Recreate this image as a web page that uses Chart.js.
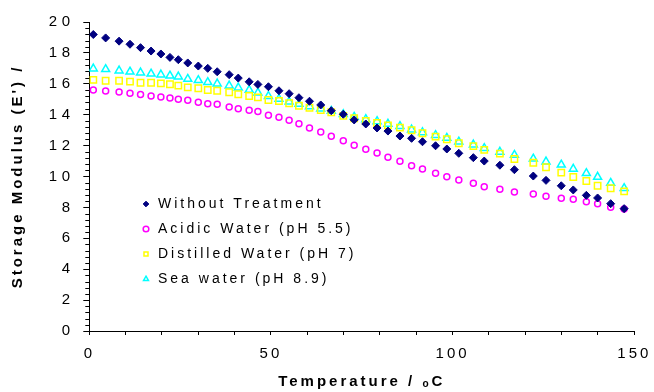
<!DOCTYPE html>
<html>
<head>
<meta charset="utf-8">
<script src="https://cdn.jsdelivr.net/npm/chart.js@4.4.0/dist/chart.umd.min.js"></script>
<style>
  html, body { margin: 0; padding: 0; background: #fff; }
  #wrap { width: 654px; height: 392px; }
</style>
</head>
<body>
<div id="wrap"><canvas id="modulusChart" width="654" height="392"></canvas></div>
<script>
// temperatures (oC) shared by all four series
const temperatures = [
  1.1, 4.5, 8.2, 11.2, 14.1, 17.0, 19.7, 22.2, 24.5, 27.1, 30.0, 32.6, 35.2, 38.5, 41.0, 44.0, 46.4,
  49.3, 52.2, 55.0, 57.7, 60.6, 63.7, 66.6, 69.9, 72.9, 76.1, 79.2, 82.2, 85.5, 88.7, 91.7,
  95.3, 98.4, 101.7, 105.7, 108.7, 113.0, 117.0, 122.2, 125.7, 129.9, 133.2, 136.8, 139.9, 143.5, 147.2
];

const withoutTreatment = [
  19.19, 18.97, 18.76, 18.56, 18.34, 18.12, 17.93, 17.71, 17.56, 17.35, 17.15, 17.00, 16.78, 16.59, 16.37, 16.13, 15.96,
  15.81, 15.55, 15.36, 15.10, 14.87, 14.63, 14.26, 14.03, 13.66, 13.40, 13.14, 12.94, 12.62, 12.47, 12.25,
  11.99, 11.78, 11.50, 11.22, 11.00, 10.73, 10.44, 10.03, 9.75, 9.40, 9.13, 8.78, 8.61, 8.24, 7.92
];

const acidicWater = [
  15.60, 15.53, 15.47, 15.39, 15.30, 15.21, 15.15, 15.08, 15.00, 14.93, 14.80, 14.71, 14.67, 14.50, 14.39, 14.28, 14.20,
  13.96, 13.83, 13.64, 13.42, 13.14, 12.88, 12.60, 12.32, 12.02, 11.76, 11.52, 11.24, 10.98, 10.70, 10.48,
  10.21, 9.99, 9.77, 9.56, 9.34, 9.17, 9.00, 8.87, 8.72, 8.59, 8.52, 8.37, 8.24, 8.01, 7.90
];

const distilledWater = [
  16.25, 16.20, 16.20, 16.14, 16.07, 16.07, 16.03, 15.97, 15.88, 15.77, 15.71, 15.60, 15.55, 15.45, 15.32, 15.21, 15.12,
  14.95, 14.89, 14.74, 14.58, 14.45, 14.30, 14.16, 13.92, 13.77, 13.59, 13.46, 13.31, 13.16, 12.99, 12.80,
  12.58, 12.41, 12.15, 11.97, 11.72, 11.48, 11.13, 10.89, 10.60, 10.25, 9.97, 9.71, 9.40, 9.24, 9.04
];

const seaWater = [
  16.98, 16.94, 16.85, 16.78, 16.72, 16.65, 16.59, 16.52, 16.46, 16.31, 16.23, 16.10, 16.01, 15.88, 15.75, 15.60, 15.42,
  15.20, 15.02, 14.84, 14.69, 14.54, 14.39, 14.24, 14.03, 13.85, 13.70, 13.57, 13.40, 13.25, 13.03, 12.85,
  12.67, 12.49, 12.25, 12.06, 11.83, 11.59, 11.39, 11.15, 10.96, 10.76, 10.49, 10.21, 9.97, 9.58, 9.24
];

const seriesNames = ['Without Treatment', 'Acidic Water (pH 5.5)', 'Distilled Water (pH 7)', 'Sea water (pH 8.9)'];
const xTickLabels = [0, 50, 100, 150];
const yTickLabels = [0, 2, 4, 6, 8, 10, 12, 14, 16, 18, 20];

const FONT = "'Liberation Sans', Arial, sans-serif";

function toPoints(values) {
  return temperatures.map((t, i) => ({ x: t, y: values[i] }));
}

// excel-ish spaced out text
const textSpacing = {
  id: 'textSpacing',
  beforeUpdate(chart) { chart.ctx.letterSpacing = '3px'; },
  beforeDraw(chart) { chart.ctx.letterSpacing = '3px'; },
  afterLayout(chart) {
    // value axis numbers are spread a bit wider
    const y = chart.scales.y;
    if (y._wide) return;
    const base = y.drawLabels;
    y.drawLabels = function (area) {
      this.ctx.letterSpacing = '4.5px';
      base.call(this, area);
      this.ctx.letterSpacing = '3px';
    };
    y._wide = true;
  }
};

// short minor ticks on the value axis
const minorTicks = {
  id: 'minorTicks',
  afterDraw(chart) {
    const y = chart.scales.y;
    const ctx = chart.ctx;
    const left = chart.chartArea.left;
    ctx.save();
    ctx.strokeStyle = '#000';
    ctx.lineWidth = 1;
    ctx.beginPath();
    for (let k = 1; k < 50; k++) {
      if (k % 5 === 0) continue;
      const py = Math.round(y.getPixelForValue(k * 0.4)) + 0.5;
      ctx.moveTo(left - 4, py);
      ctx.lineTo(left, py);
    }
    ctx.stroke();
    ctx.restore();
  }
};

// put the legend inside the plot, lower left
const legendPlace = {
  id: 'legendPlace',
  afterLayout(chart) {
    chart.legend.left = 130;
    chart.legend.top = 186;
  }
};

const ctx = document.getElementById('modulusChart').getContext('2d');
new Chart(ctx, {
  type: 'scatter',
  data: {
    datasets: [
      {
        label: seriesNames[0],
        data: toPoints(withoutTreatment),
        pointStyle: 'rectRot',
        pointRadius: 4,
        borderWidth: 1,
        borderColor: '#000080',
        backgroundColor: '#000080'
      },
      {
        label: seriesNames[1],
        data: toPoints(acidicWater),
        pointStyle: 'circle',
        pointRadius: 3,
        borderWidth: 1.5,
        borderColor: '#FF00FF',
        backgroundColor: 'rgba(0,0,0,0)'
      },
      {
        label: seriesNames[2],
        data: toPoints(distilledWater),
        pointStyle: 'rect',
        pointRadius: 4.5,
        borderWidth: 1.5,
        borderColor: '#FFFF00',
        backgroundColor: 'rgba(0,0,0,0)'
      },
      {
        label: seriesNames[3],
        data: toPoints(seaWater),
        pointStyle: 'triangle',
        pointRadius: 4.6,
        borderWidth: 1.5,
        borderColor: '#00FFFF',
        backgroundColor: 'rgba(0,0,0,0)'
      }
    ]
  },
  options: {
    responsive: false,
    animation: false,
    layout: { padding: { top: 22, right: 19.7, bottom: 0, left: 0 } },
    plugins: {
      tooltip: { enabled: false },
      legend: {
        position: 'chartArea',
        align: 'start',
        labels: {
          usePointStyle: true,
          boxWidth: 10,
          boxHeight: 4,
          padding: 11,
          color: '#000',
          font: { family: FONT, size: 14 }
        }
      }
    },
    scales: {
      x: {
        type: 'linear',
        min: 0,
        max: 150,
        afterFit(s) {
          s.height = 61;
          s.paddingLeft = 0;
          s.paddingRight = 0;
        },
        ticks: {
          stepSize: 10,
          autoSkip: false,
          maxRotation: 0,
          padding: 9.8,
          color: '#000',
          font: { family: FONT, size: 15 },
          callback: v => xTickLabels.includes(v) ? String(v) : ''
        },
        grid: { drawOnChartArea: false, tickLength: 4, tickColor: '#000', tickWidth: 1 },
        border: { display: true, color: '#000', width: 1 },
        title: {
          display: true,
          text: 'Temperature / \u2092C',
          color: '#000',
          font: { family: FONT, size: 15, weight: 'bold' },
          padding: { top: 0, bottom: 1 }
        }
      },
      y: {
        min: 0,
        max: 20,
        afterFit(s) { s.width = 89.3; },
        ticks: {
          stepSize: 2,
          padding: 8.8,
          color: '#000',
          font: { family: FONT, size: 15 },
          callback: v => yTickLabels.includes(v) ? String(v) : ''
        },
        grid: { drawOnChartArea: false, tickLength: 6, tickColor: '#000', tickWidth: 1 },
        border: { display: true, color: '#000', width: 1 },
        title: {
          display: true,
          text: "Storage Modulus (E') /",
          color: '#000',
          font: { family: FONT, size: 15, weight: 'bold' },
          padding: { top: 9, bottom: 0 }
        }
      }
    }
  },
  plugins: [textSpacing, minorTicks, legendPlace]
});
</script>
</body>
</html>
